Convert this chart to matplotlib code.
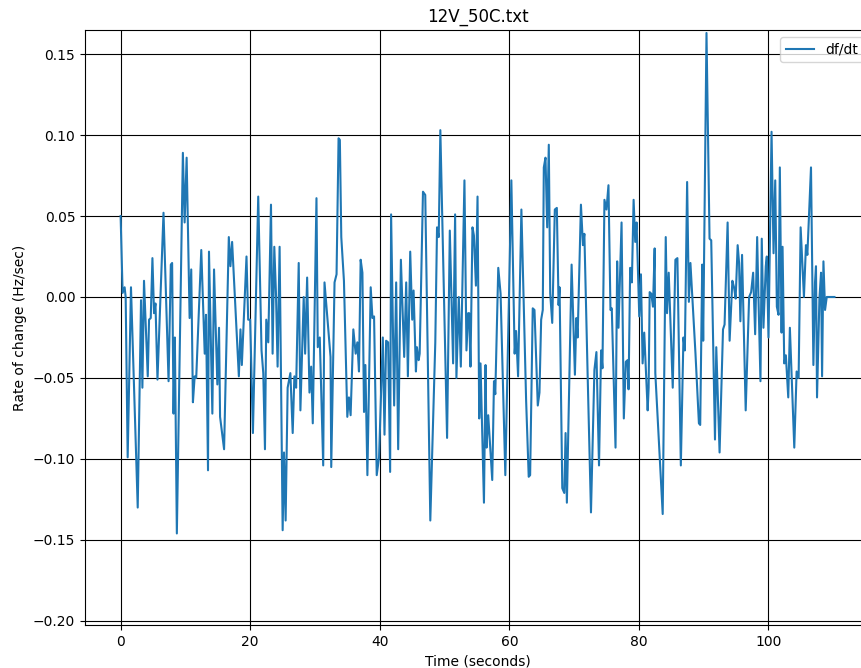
import matplotlib
matplotlib.use("Agg")
import matplotlib.pyplot as plt

# values (turning points of the trace)
time_s = [
    0.00, 0.31, 0.62, 0.78, 1.09, 1.60, 2.64, 3.15, 3.36, 3.61, 4.19, 4.39, 4.65, 4.91, 5.16, 5.38,
    5.69, 6.62, 7.40, 7.75, 7.95, 8.17, 8.37, 8.68, 9.61, 9.88, 10.19, 10.65, 10.90, 11.16, 11.43,
    11.67, 12.45, 12.98, 13.18, 13.49, 13.64, 14.16, 14.42, 14.93, 15.19, 15.35, 15.97, 16.70,
    16.95, 17.21, 18.25, 18.50, 18.71, 19.43, 19.69, 20.00, 20.42, 21.24, 21.75, 22.02, 22.28,
    22.48, 22.79, 23.21, 23.46, 23.72, 23.98, 24.23, 24.54, 25.01, 25.22, 25.47, 25.78, 26.20,
    26.56, 26.82, 27.09, 27.49, 27.75, 28.26, 28.48, 28.79, 29.15, 29.41, 29.66, 30.23, 30.43,
    30.74, 31.27, 31.47, 32.40, 32.51, 33.02, 33.33, 33.64, 33.84, 34.06, 34.47, 34.99, 35.24,
    35.50, 35.92, 36.28, 36.54, 36.79, 37.05, 37.32, 37.57, 37.78, 38.09, 38.60, 38.87, 39.12,
    39.53, 39.89, 40.47, 40.73, 40.98, 41.29, 41.60, 41.75, 42.22, 42.53, 42.84, 43.26, 43.77,
    44.08, 44.34, 44.70, 45.01, 45.22, 45.58, 45.74, 46.00, 46.16, 46.67, 47.02, 47.80, 48.57,
    48.84, 49.10, 49.35, 50.39, 50.81, 51.32, 51.63, 51.83, 52.20, 52.51, 53.07, 53.38, 53.64,
    53.80, 54.00, 54.31, 54.53, 54.84, 55.09, 55.35, 55.55, 56.08, 56.33, 56.48, 56.74, 57.36,
    57.63, 57.83, 58.29, 58.65, 59.38, 60.31, 60.82, 61.04, 61.35, 61.86, 62.59, 62.99, 63.21,
    63.61, 63.88, 64.39, 64.65, 64.91, 65.16, 65.32, 65.58, 65.84, 66.09, 66.31, 66.62, 67.02,
    67.33, 67.60, 67.75, 68.17, 68.48, 68.68, 68.88, 69.61, 70.12, 70.34, 70.54, 71.05, 71.36,
    71.58, 72.09, 72.60, 73.13, 73.44, 73.84, 74.16, 74.37, 74.68, 74.99, 75.30, 75.61, 75.81,
    76.39, 76.64, 76.85, 77.32, 77.67, 77.98, 78.25, 78.40, 78.65, 78.91, 79.18, 79.43, 79.64,
    80.05, 80.31, 80.57, 80.82, 81.35, 81.50, 81.66, 81.91, 82.17, 82.43, 82.53, 83.30, 83.67,
    84.14, 84.34, 84.60, 85.22, 85.63, 85.94, 86.47, 86.87, 87.09, 87.44, 87.71, 87.95, 88.73,
    89.26, 89.46, 89.77, 89.92, 90.43, 90.90, 91.16, 91.74, 91.94, 92.45, 92.98, 93.22, 93.69,
    94.00, 94.42, 94.68, 94.93, 95.24, 95.46, 95.66, 95.92, 96.48, 97.01, 97.32, 97.63, 97.94,
    98.25, 98.45, 98.76, 98.96, 99.22, 99.58, 99.74, 100.00, 100.47, 100.78, 101.04, 101.29,
    101.55, 101.75, 102.02, 102.17, 102.43, 102.68, 103.05, 103.30, 103.98, 104.34, 104.65,
    104.96, 105.47, 105.78, 106.00, 106.56, 106.93, 107.18, 107.33, 107.49, 107.86, 108.11,
    108.27, 108.48, 108.73, 108.99, 110.18,
]
dfdt = [
    0.050, 0.0025, 0.006, 0.000, -0.099, 0.006, -0.130, -0.002, -0.056, 0.010, -0.049, -0.014,
    -0.013, 0.024, -0.010, -0.004, -0.051, 0.052, -0.052, 0.020, 0.021, -0.072, -0.025, -0.146,
    0.089, 0.046, 0.086, -0.013, 0.017, -0.065, -0.049, -0.050, 0.029, -0.035, -0.011, -0.107,
    0.028, -0.072, 0.017, -0.054, -0.019, -0.074, -0.094, 0.037, 0.019, 0.034, -0.049, -0.020,
    -0.042, 0.025, -0.014, -0.014, -0.084, 0.062, -0.033, -0.047, -0.094, -0.014, -0.028, 0.057,
    -0.035, 0.031, 0.002, -0.043, 0.031, -0.144, -0.096, -0.138, -0.056, -0.047, -0.084, -0.049,
    -0.056, 0.021, -0.070, 0.000, -0.035, 0.012, -0.059, -0.043, -0.078, 0.061, -0.031, -0.025,
    -0.104, 0.009, -0.037, -0.105, 0.009, 0.014, 0.098, 0.097, 0.037, 0.010, -0.074, -0.062,
    -0.073, -0.020, -0.035, -0.028, -0.046, 0.023, 0.015, -0.071, -0.042, -0.110, 0.006, -0.013,
    -0.012, -0.110, -0.099, -0.025, -0.085, -0.027, -0.028, -0.108, 0.051, -0.067, 0.009, -0.094,
    0.023, -0.037, 0.009, -0.049, 0.028, -0.014, 0.004, -0.046, -0.031, -0.039, -0.035, 0.065,
    0.063, -0.138, -0.028, 0.043, 0.037, 0.103, -0.087, 0.041, -0.041, 0.051, -0.050, 0.000,
    -0.043, 0.072, -0.033, -0.010, -0.010, -0.043, 0.043, 0.038, 0.007, 0.062, -0.075, -0.041,
    -0.127, -0.042, -0.093, -0.073, -0.113, -0.052, -0.060, 0.018, 0.002, -0.110, 0.072, -0.035,
    -0.021, -0.049, 0.054, -0.064, -0.111, -0.110, -0.007, -0.008, -0.067, -0.059, -0.014,
    -0.008, 0.080, 0.086, 0.043, 0.094, 0.002, -0.016, 0.054, 0.055, -0.005, 0.006, -0.118,
    -0.121, -0.084, -0.127, 0.020, -0.048, -0.013, -0.025, 0.057, 0.032, 0.039, -0.049, -0.133,
    -0.045, -0.034, -0.104, -0.033, -0.044, 0.060, 0.054, 0.069, -0.008, -0.007, -0.093, 0.022,
    -0.019, 0.046, -0.075, -0.040, -0.039, -0.057, 0.018, 0.009, 0.060, 0.034, 0.046, -0.012,
    0.014, -0.041, -0.022, -0.070, -0.056, 0.003, 0.002, -0.006, 0.030, -0.047, -0.105, -0.134,
    0.037, -0.010, 0.015, -0.056, 0.023, 0.024, -0.104, -0.025, -0.033, 0.071, -0.003, 0.021,
    -0.035, -0.078, -0.079, 0.020, -0.027, 0.163, 0.036, 0.035, -0.088, -0.031, -0.096, -0.020,
    -0.017, 0.046, -0.027, 0.010, 0.006, -0.001, 0.032, 0.021, -0.015, 0.026, -0.070, 0.000,
    0.003, 0.015, -0.023, 0.037, 0.000, -0.052, 0.036, -0.019, 0.019, 0.025, -0.025, 0.102,
    0.027, 0.072, -0.006, -0.011, 0.080, -0.022, 0.031, -0.041, -0.036, -0.062, -0.019, -0.093,
    -0.046, -0.050, 0.043, 0.000, 0.032, 0.026, 0.080, -0.042, 0.009, 0.019, -0.062, -0.001,
    0.015, -0.049, 0.022, -0.008, 0.000, 0.000,
]
x_ticks = [0, 20, 40, 60, 80, 100]
y_ticks = [-0.20, -0.15, -0.10, -0.05, 0.00, 0.05, 0.10, 0.15]

fig = plt.figure(figsize=(8.61, 6.68), dpi=100)
# the original figure is cropped at the right, so the axes run just past the edge
ax = fig.add_axes([0.0987, 0.0644, 0.912, 0.8906])

ax.plot(time_s, dfdt, color="#1f77b4", linewidth=1.5, label="df/dt")
ax.set_xlim(-5.5, 115.7)
ax.set_ylim(-0.2025, 0.1648)
ax.set_xticks(x_ticks)
ax.set_yticks(y_ticks)
ax.grid(True, color="black", linewidth=0.8)
ax.set_title("12V_50C.txt", fontsize=12)
ax.set_xlabel("Time (seconds)")
ax.set_ylabel("Rate of change (Hz/sec)")
ax.legend(loc="upper right")

fig.savefig("out.png", dpi=100)
